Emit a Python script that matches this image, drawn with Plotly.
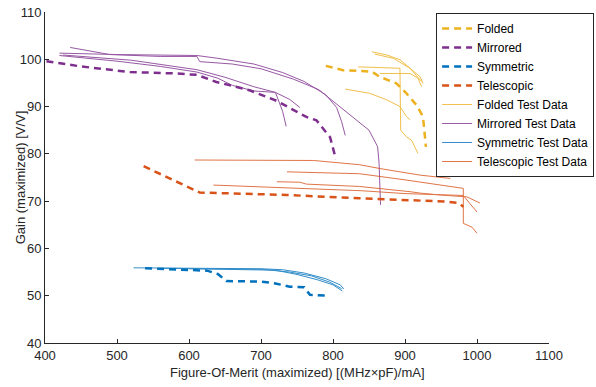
import plotly.graph_objects as go

# ---- Model (dashed) curves ----
folded_x = [790, 814, 854, 865, 888, 902, 916, 925, 929]
folded_y = [98.6, 97.7, 97.4, 96.3, 94.9, 92.8, 90.3, 87.9, 81.5]

mirrored_x = [402, 449, 518, 583, 611, 638, 657, 685, 722, 743, 763, 777, 796, 804]
mirrored_y = [99.6, 98.5, 97.3, 97.0, 96.7, 95.2, 94.5, 93.4, 91.2, 89.5, 87.8, 87.1, 83.5, 78.9]

symmetric_x = [539, 625, 640, 652, 700, 720, 740, 760, 768, 791]
symmetric_y = [55.8, 55.3, 54.6, 53.1, 53.0, 52.6, 51.9, 51.8, 50.2, 50.0]

telescopic_x = [537, 615, 643, 736, 837, 875, 958, 975, 981]
telescopic_y = [77.4, 71.8, 71.7, 71.3, 70.6, 70.4, 69.9, 69.6, 68.8]

# ---- Test data (thin solid), several runs each ----
folded_test_x = [
    [854, 875, 893, 911, 921, 925],
    [858, 884, 907, 923],
    [835, 865, 893, 894, 902, 909, 914, 918],
    [865, 907, 918, 923],
    [817, 851, 875, 893, 902, 907],
]
folded_test_y = [
    [101.6, 100.9, 99.9, 97.7, 96.3, 94.9],
    [101.1, 100.2, 98.1, 95.3],
    [98.4, 98.3, 98.1, 85.0, 83.6, 82.9, 81.5, 80.1],
    [97.0, 97.0, 96.0, 94.2],
    [93.7, 92.8, 91.4, 90.0, 87.9, 87.2],
]

mirrored_test_x = [
    [435, 490, 560, 611, 615, 660, 700, 745, 780, 805, 825, 850, 862, 864, 866],
    [420, 500, 611, 640, 690, 730, 760, 790, 805, 812, 817],
    [420, 500, 560, 611, 640, 660, 690, 720, 730, 735],
    [425, 520, 611, 650, 690, 720, 740, 754],
]
mirrored_test_y = [
    [102.5, 101.0, 100.6, 100.6, 99.5, 99.0, 98.0, 95.8, 93.6, 90.5, 88.0, 85.0, 81.5, 78.0, 69.2],
    [101.3, 101.0, 100.8, 100.2, 99.0, 97.2, 95.3, 92.5, 89.8, 86.8, 83.9],
    [100.8, 99.6, 98.5, 97.3, 96.0, 94.5, 93.3, 93.0, 89.0, 85.8],
    [100.9, 99.8, 97.8, 96.2, 94.2, 93.0, 91.5, 89.8],
]

symmetric_test_x = [
    [523, 600, 700, 730, 760, 790, 810, 815],
    [560, 700, 740, 770, 795, 812],
    [600, 720, 750, 780, 800, 813],
]
symmetric_test_y = [
    [55.9, 55.8, 55.7, 55.5, 54.8, 53.6, 52.3, 51.4],
    [55.8, 55.6, 55.0, 54.2, 52.9, 51.5],
    [55.7, 55.4, 54.5, 53.3, 52.3, 51.0],
]

telescopic_test_x = [
    [608, 773, 837, 865, 921, 963],
    [736, 837, 900, 981, 981, 993, 1000],
    [722, 754, 763, 837, 907, 921, 949, 986, 1004],
    [634, 700, 790, 840, 900, 981, 990, 1000],
]
telescopic_test_y = [
    [78.7, 78.6, 77.7, 76.9, 75.5, 74.8],
    [76.2, 75.8, 74.5, 72.7, 65.3, 64.5, 63.2],
    [74.1, 74.0, 73.6, 73.1, 72.0, 71.7, 71.3, 70.9, 69.6],
    [73.4, 73.0, 72.4, 72.2, 71.6, 71.2, 69.5, 67.7],
]

names = ["Folded", "Mirrored", "Symmetric", "Telescopic"]
colors = ["#EDB120", "#7E2F8E", "#0072BD", "#D95319"]
model_x = [folded_x, mirrored_x, symmetric_x, telescopic_x]
model_y = [folded_y, mirrored_y, symmetric_y, telescopic_y]
test_x = [folded_test_x, mirrored_test_x, symmetric_test_x, telescopic_test_x]
test_y = [folded_test_y, mirrored_test_y, symmetric_test_y, telescopic_test_y]


def joined(runs):
    out = []
    for i, r in enumerate(runs):
        if i:
            out.append(None)
        out.extend(r)
    return out


fig = go.Figure()
for i, n in enumerate(names):
    fig.add_trace(go.Scatter(
        x=joined(test_x[i]), y=joined(test_y[i]), mode="lines",
        name=n + " Test Data", legendrank=10 + i,
        line=dict(color=colors[i], width=1), opacity=0.8,
    ))
for i, n in enumerate(names):
    fig.add_trace(go.Scatter(
        x=model_x[i], y=model_y[i], mode="lines", name=n, legendrank=i,
        line=dict(color=colors[i], width=2.5, dash="7px,5px"),
    ))

axis_common = dict(
    showline=True, linecolor="#262626", linewidth=1, mirror=False,
    ticks="inside", ticklen=4, tickcolor="#262626", showgrid=False,
    zeroline=False, tickfont=dict(size=13, color="#262626"), automargin=False,
)
fig.update_xaxes(range=[400, 1100], tickvals=list(range(400, 1101, 100)), **axis_common)
fig.update_yaxes(range=[40, 110], tickvals=list(range(40, 111, 10)), **axis_common)

fig.update_layout(
    width=596, height=387,
    margin=dict(l=45, r=47, t=12, b=44, autoexpand=False),
    paper_bgcolor="white", plot_bgcolor="white",
    font=dict(family="Liberation Sans, Arial, sans-serif", color="#262626"),
    showlegend=True,
    legend=dict(
        x=0.776, y=0.997, xanchor="left", yanchor="top",
        bgcolor="white", bordercolor="#262626", borderwidth=1,
        font=dict(size=12, color="#000000"), itemwidth=30,
        tracegroupgap=0,
    ),
    annotations=[
        dict(text="Gain (maximized) [V/V]", xref="paper", yref="paper",
             x=-0.048, y=0.5, xanchor="center", yanchor="middle",
             textangle=-90, showarrow=False, font=dict(size=13, color="#262626")),
        dict(text="Figure-Of-Merit (maximized) [(MHz×pF)/mA]", xref="paper", yref="paper",
             x=0.5, y=-0.088, xanchor="center", yanchor="middle",
             showarrow=False, font=dict(size=13, color="#262626")),
    ],
)

fig.write_html(
    "out.html",
    config={"displayModeBar": False},
    post_script="document.body.style.margin='0';document.body.style.overflow='hidden';",
)
